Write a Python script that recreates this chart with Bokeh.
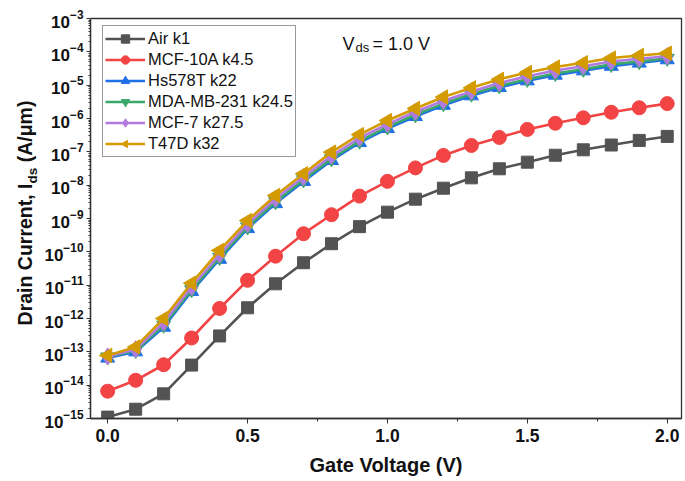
import math
from bokeh.plotting import figure
from bokeh.layouts import row
from bokeh.models import (FixedTicker, SingleIntervalTicker, LogTickFormatter, Label,
                          Range1d, Legend, PrintfTickFormatter, ColumnDataSource, Div)
from bokeh.embed import file_html
from bokeh.resources import INLINE

# ---------------- data ----------------
gate_v = [0.0, 0.1, 0.2, 0.3, 0.4, 0.5, 0.6, 0.7, 0.8, 0.9, 1.0,
          1.1, 1.2, 1.3, 1.4, 1.5, 1.6, 1.7, 1.8, 1.9, 2.0]

air_k1 = [1.1e-15, 1.9e-15, 5.5e-15, 4.0e-14, 3.0e-13, 2.1e-12, 1.1e-11, 4.7e-11,
          1.75e-10, 5.7e-10, 1.55e-9, 3.8e-9, 8.1e-9, 1.66e-8, 3.1e-8, 4.9e-8,
          7.9e-8, 1.15e-7, 1.6e-7, 2.2e-7, 2.9e-7]
mcf10a_k45 = [6.6e-15, 1.4e-14, 4.1e-14, 2.6e-13, 2.0e-12, 1.4e-11, 7.4e-11, 3.5e-10,
              1.3e-9, 4.7e-9, 1.3e-8, 3.3e-8, 7.8e-8, 1.55e-7, 2.7e-7, 4.7e-7,
              7.2e-7, 1.05e-6, 1.54e-6, 2.1e-6, 2.8e-6]
hs578t_k22 = [6.5e-14, 1.0e-13, 5.5e-13, 6.5e-12, 6.0e-11, 5.0e-10, 2.8e-9, 1.3e-8,
              5.5e-8, 1.9e-7, 5.0e-7, 1.15e-6, 2.5e-6, 4.8e-6, 8.5e-6, 1.35e-5,
              2.0e-5, 2.7e-5, 3.7e-5, 4.6e-5, 5.8e-5]
mda_k245 = [7.0e-14, 1.1e-13, 6.3e-13, 7.3e-12, 6.8e-11, 5.6e-10, 3.2e-9, 1.45e-8,
            6.2e-8, 2.1e-7, 5.6e-7, 1.3e-6, 2.8e-6, 5.4e-6, 9.6e-6, 1.5e-5,
            2.25e-5, 3.0e-5, 4.2e-5, 5.1e-5, 6.4e-5]
mcf7_k275 = [7.3e-14, 1.2e-13, 7.5e-13, 8.8e-12, 8.3e-11, 6.8e-10, 3.9e-9, 1.75e-8,
             7.6e-8, 2.6e-7, 6.8e-7, 1.6e-6, 3.4e-6, 6.5e-6, 1.17e-5, 1.85e-5,
             2.75e-5, 3.7e-5, 5.1e-5, 6.2e-5, 7.4e-5]
t47d_k32 = [7.8e-14, 1.4e-13, 1.0e-12, 1.15e-11, 1.1e-10, 8.7e-10, 4.9e-9, 2.2e-8,
            9.8e-8, 3.3e-7, 8.7e-7, 2.0e-6, 4.4e-6, 8.3e-6, 1.5e-5, 2.4e-5,
            3.5e-5, 4.7e-5, 6.5e-5, 7.8e-5, 9.1e-5]

series_names = ["Air k1", "MCF-10A k4.5", "Hs578T k22", "MDA-MB-231 k24.5",
                "MCF-7 k27.5", "T47D k32"]
series_values = [air_k1, mcf10a_k45, hs578t_k22, mda_k245, mcf7_k275, t47d_k32]

y_exponents = list(range(-15, -2))

# ---------------- styles ----------------
colors = ["#535353", "#f24444", "#1f6fe6", "#3aa86a", "#b07ae0", "#d39b00"]
markers = ["square", "circle", "triangle", "inverted_triangle", "diamond", "left_tri"]
msizes = [12, 14, 14, 14, 17, 15]
FONT = "Liberation Sans"
AX = "#333333"
TXT = "#111111"

p = figure(width=647, height=481, y_axis_type="log", output_backend="svg",
           toolbar_location=None, x_range=Range1d(-0.0614, 2.051),
           y_range=Range1d(1e-15, 1e-3),
           min_border_left=52, min_border_right=4, min_border_top=18,
           min_border_bottom=63)
p.grid.visible = False
p.outline_line_color = AX
p.outline_line_width = 1.3
p.background_fill_color = "white"
p.border_fill_color = "white"

items = []
for name, vals, c, m, s in zip(series_names, series_values, colors, markers, msizes):
    src = ColumnDataSource(dict(x=gate_v, y=vals))
    r1 = p.line("x", "y", source=src, line_color=c, line_width=2.6)
    if m == "left_tri":
        try:
            r2 = p.ngon("x", "y", source=src, radius=s * 0.55, radius_units="screen",
                        n=3, angle=math.pi / 2, fill_color=c, line_color=c)
        except Exception:
            r2 = p.scatter("x", "y", source=src, marker="triangle", size=s,
                           fill_color=c, line_color=c)
    else:
        r2 = p.scatter("x", "y", source=src, marker=m, size=s, fill_color=c, line_color=c)
    items.append((name, [r1, r2]))

legend = Legend(items=items, location=(12, 261))
legend.label_text_font = FONT
legend.label_text_font_size = "16.5px"
legend.label_text_color = TXT
legend.glyph_width = 40
legend.glyph_height = 21
legend.label_height = 21
legend.spacing = 0
legend.padding = 2
legend.margin = 0
legend.label_standoff = 3
legend.border_line_color = AX
legend.border_line_width = 1
legend.background_fill_alpha = 1.0
p.add_layout(legend)

# x axis
xa = p.xaxis[0]
xa.ticker = SingleIntervalTicker(interval=0.5, num_minor_ticks=2)
xa.formatter = PrintfTickFormatter(format="%.1f")
xa.axis_label = "Gate Voltage (V)"
xa.axis_label_text_font = FONT
xa.axis_label_text_font_style = "bold"
xa.axis_label_text_font_size = "20px"
xa.axis_label_text_color = TXT
xa.axis_label_standoff = 9
xa.major_label_text_font = FONT
xa.major_label_text_font_style = "bold"
xa.major_label_text_font_size = "17.5px"
xa.major_label_text_color = TXT
xa.major_label_standoff = 5
xa.major_tick_out = 5
xa.major_tick_in = 0
xa.minor_tick_out = 3
xa.minor_tick_in = 0
xa.axis_line_color = AX
xa.major_tick_line_color = AX
xa.minor_tick_line_color = AX
xa.axis_line_width = 1.3

# y axis
ya = p.yaxis[0]
majors = [10.0 ** e for e in y_exponents]
minors = [k * 10.0 ** e for e in y_exponents[:-1] for k in range(2, 10)]
ya.ticker = FixedTicker(ticks=majors, minor_ticks=minors)
ya.formatter = LogTickFormatter()
ya.axis_label = None
ya.major_label_text_font = FONT
ya.major_label_text_font_style = "bold"
ya.major_label_text_font_size = "17px"
ya.major_label_text_color = TXT
ya.major_label_standoff = 3
ya.major_tick_out = 4
ya.major_tick_in = 0
ya.minor_tick_out = 2
ya.minor_tick_in = 0
ya.axis_line_color = AX
ya.major_tick_line_color = AX
ya.minor_tick_line_color = AX
ya.axis_line_width = 1.3

# V_ds annotation (screen units relative to the plot frame)
ann_kw = dict(x_units="screen", y_units="screen", text_font=FONT, text_color=TXT,
              text_align="left", text_baseline="alphabetic")
p.add_layout(Label(x=252, y=375, text="V", text_font_size="18px", **ann_kw))
p.add_layout(Label(x=265, y=371, text="ds", text_font_size="13px", **ann_kw))
p.add_layout(Label(x=282, y=375, text="= 1.0 V", text_font_size="18px", **ann_kw))

# y-axis title (rotated HTML text so the subscript can be kept)
W2 = 38
ytitle_html = (
    '<div style="position:relative;width:38px;height:481px;">'
    '<div style="position:absolute;left:25.6px;top:212.5px;'
    'transform:translate(-50%,-50%) rotate(-90deg);white-space:nowrap;'
    "font-family:'Liberation Sans';font-weight:bold;font-size:19.5px;"
    'line-height:22px;color:#111111;">'
    'Drain Current, I<span style="font-size:13.5px;position:relative;top:4.5px;">ds</span>'
    ' (A/\u03bcm)</div></div>'
)
ytitle = Div(text=ytitle_html, width=W2, height=481, margin=0)

layout = row(ytitle, p)
open("out.html", "w").write(file_html(layout, INLINE))
